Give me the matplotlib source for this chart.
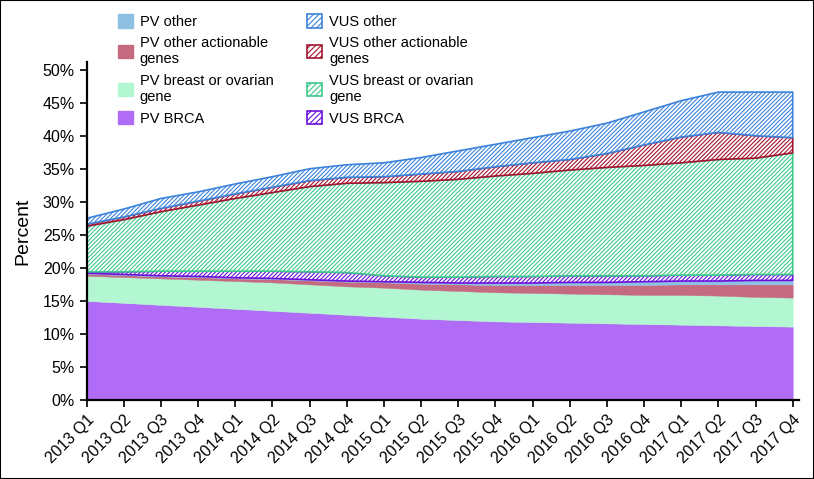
import numpy as np
import matplotlib
matplotlib.use("Agg")
import matplotlib.pyplot as plt
from matplotlib.patches import Patch, Rectangle

plt.rcParams['font.family'] = ['Liberation Sans', 'DejaVu Sans']
plt.rcParams['hatch.linewidth'] = 0.8

quarters = ["2013 Q1", "2013 Q2", "2013 Q3", "2013 Q4",
            "2014 Q1", "2014 Q2", "2014 Q3", "2014 Q4",
            "2015 Q1", "2015 Q2", "2015 Q3", "2015 Q4",
            "2016 Q1", "2016 Q2", "2016 Q3", "2016 Q4",
            "2017 Q1", "2017 Q2", "2017 Q3", "2017 Q4"]

# layer sizes in percent, bottom to top
pv_brca = [15.0, 14.7, 14.4, 14.1, 13.8, 13.5, 13.2, 12.9, 12.6, 12.3,
           12.1, 11.9, 11.8, 11.7, 11.6, 11.5, 11.4, 11.3, 11.2, 11.1]
pv_breast = [3.8, 3.9, 4.0, 4.1, 4.2, 4.3, 4.3, 4.3, 4.4, 4.4,
             4.4, 4.4, 4.4, 4.4, 4.4, 4.4, 4.5, 4.5, 4.4, 4.4]
pv_other_act = [0.3, 0.3, 0.3, 0.4, 0.4, 0.5, 0.6, 0.7, 0.8, 0.9,
                1.0, 1.1, 1.2, 1.3, 1.4, 1.5, 1.6, 1.7, 1.9, 2.0]
pv_other = [0.1, 0.1, 0.1, 0.1, 0.1, 0.1, 0.1, 0.1, 0.1, 0.2,
            0.2, 0.3, 0.3, 0.4, 0.4, 0.5, 0.5, 0.5, 0.6, 0.6]
vus_brca = [0.2, 0.4, 0.7, 0.8, 1.0, 1.1, 1.2, 1.3, 0.9, 0.8,
            0.9, 1.0, 1.0, 1.0, 1.0, 0.9, 0.9, 0.9, 0.9, 0.9]
vus_breast = [6.9, 7.9, 9.0, 10.0, 11.0, 11.9, 12.9, 13.5, 14.1, 14.5,
              14.8, 15.2, 15.6, 16.0, 16.4, 16.7, 17.0, 17.5, 17.6, 18.4]
vus_other_act = [0.3, 0.4, 0.5, 0.6, 0.7, 0.8, 0.9, 0.9, 0.9, 1.1,
                 1.2, 1.4, 1.6, 1.6, 2.1, 3.1, 3.9, 4.1, 3.4, 2.3]
vus_other = [0.9, 1.2, 1.5, 1.4, 1.5, 1.6, 1.8, 1.9, 2.1, 2.5,
             3.1, 3.4, 3.8, 4.3, 4.6, 5.0, 5.5, 6.1, 6.6, 6.9]

layers = [
    ("PV BRCA", pv_brca, "#b06cf6", False),
    ("PV breast or ovarian\ngene", pv_breast, "#b3f6d2", False),
    ("PV other actionable\ngenes", pv_other_act, "#c46b82", False),
    ("PV other", pv_other, "#8ec0e4", False),
    ("VUS BRCA", vus_brca, "#6a0fdc", True),
    ("VUS breast or ovarian\ngene", vus_breast, "#3cc98a", True),
    ("VUS other actionable\ngenes", vus_other_act, "#a3132f", True),
    ("VUS other", vus_other, "#3b82dc", True),
]

fig = plt.figure(figsize=(8.14, 4.79), dpi=100)
ax = fig.add_axes([0.1065, 0.1649, 0.8751, 0.7063])

x = np.arange(len(quarters))
base = np.zeros(len(quarters))
handles = {}
hatch = "////////"
for name, vals, color, hatched in layers:
    top = base + np.array(vals)
    if hatched:
        ax.fill_between(x, base, top, facecolor="white", edgecolor=color,
                        hatch=hatch, linewidth=1.2)
        handles[name] = Patch(facecolor="white", edgecolor=color, hatch="//////", linewidth=1.2)
    else:
        ax.fill_between(x, base, top, facecolor=color, edgecolor=color, linewidth=0.3)
        handles[name] = Patch(facecolor=color, edgecolor=color)
    base = top

ax.set_xlim(0, 19.17)
ax.set_ylim(0, 51.2)
ax.set_yticks(np.arange(0, 51, 5))
ax.set_yticklabels([f"{v}%" for v in range(0, 51, 5)], fontsize=11.5)
ax.set_xticks(x)
ax.set_xticklabels(quarters, rotation=45, ha="right", rotation_mode="anchor", fontsize=11.5)
ax.set_ylabel("Percent", fontsize=14, labelpad=8)

for s in ["top", "right"]:
    ax.spines[s].set_visible(False)
for s in ["left", "bottom"]:
    ax.spines[s].set_linewidth(1.6)
ax.tick_params(axis="both", direction="out", length=5, width=1.4, color="#222222")

order = ["PV other", "PV other actionable\ngenes", "PV breast or ovarian\ngene", "PV BRCA",
         "VUS other", "VUS other actionable\ngenes", "VUS breast or ovarian\ngene", "VUS BRCA"]
fig.legend([handles[n] for n in order], order, ncol=2, loc="upper left",
           bbox_to_anchor=(0.136, 0.985), frameon=False, fontsize=10.5,
           handlelength=1.0, handleheight=1.0, handletextpad=0.5,
           columnspacing=2.3, labelspacing=0.5, borderpad=0)

fig.patches.append(Rectangle((0, 0), 1, 1, transform=fig.transFigure, fill=False,
                             edgecolor="black", linewidth=1.5))

fig.savefig("out.png", dpi=100)
